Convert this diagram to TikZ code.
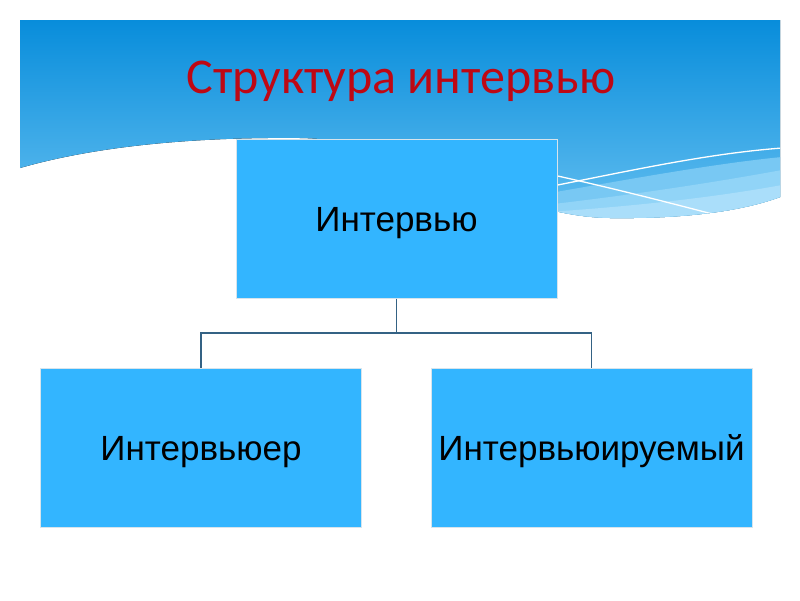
\documentclass[tikz,border=0pt]{standalone}
\usepackage{fontspec}
\setmainfont{Liberation Sans}
\newfontfamily\titlefont{Carlito}
\usetikzlibrary{positioning}
\definecolor{skytop}{RGB}{8,141,219}
\definecolor{skybot}{RGB}{98,190,240}
\definecolor{bandA}{RGB}{120,200,243}
\definecolor{bandB}{RGB}{145,212,247}
\definecolor{bandC}{RGB}{170,222,250}
\definecolor{boxfill}{RGB}{51,181,255}
\definecolor{boxline}{RGB}{215,228,236}
\definecolor{connc}{RGB}{52,98,132}
\definecolor{titlered}{RGB}{190,8,20}
\tikzset{
  boxnode/.style={rectangle, fill=boxfill, draw=boxline, line width=1pt,
    minimum width=321pt, minimum height=159pt, inner sep=0pt,
    text height=25pt, text depth=0pt,
    font=\fontsize{35}{42}\selectfont, text=black},
  conn/.style={draw=connc, line width=1.6pt},
  wline/.style={draw=white, line width=1.3pt}
}
\begin{document}
\begin{tikzpicture}[x=1pt,y=-1pt]
\useasboundingbox (0,0) rectangle (800,600);
\fill[white] (0,0) rectangle (800,600);
% sky
\fill[top color=skytop, bottom color=skybot]
  (20,20) -- (780,20) -- (780,197)
  .. controls (745,210) and (690,219) .. (610,218)
  .. controls (500,216) and (420,140) .. (300,138)
  .. controls (200,137) and (100,145) .. (20,168) -- cycle;
\begin{scope}
\clip (20,20) -- (780,20) -- (780,197)
  .. controls (745,210) and (690,219) .. (610,218)
  .. controls (500,216) and (420,140) .. (300,138)
  .. controls (200,137) and (100,145) .. (20,168) -- cycle;
\fill[bandA] (480,205) .. controls (600,185) and (700,165) .. (782,157) -- (782,230) -- (480,230) -- cycle;
\fill[bandB] (480,212) .. controls (600,200) and (700,185) .. (782,170) -- (782,230) -- (480,230) -- cycle;
\fill[bandC] (480,216) .. controls (600,210) and (700,200) .. (782,185) -- (782,230) -- (480,230) -- cycle;
\draw[wline] (480,200) .. controls (600,178) and (690,155) .. (782,148);
\draw[wline] (480,160) .. controls (560,175) and (640,195) .. (720,216);
\end{scope}
% title
\node[font=\titlefont\fontsize{50}{56}\selectfont, text=titlered, anchor=base, inner sep=0pt] (title) at (401,93) {Структура интервью};
% boxes
\node[boxnode] (top) at (396.5,218.5) {Интервью};
\node[boxnode] (left) at (201,447.5) {Интервьюер};
\node[boxnode] (right) at (591.5,447.5) {Интервьюируемый};
% connectors
\coordinate (j) at (396.5,333);
\draw[conn] (top.south) -- (j) -| (left.north);
\draw[conn] (j) -| (right.north);
\end{tikzpicture}
\end{document}
